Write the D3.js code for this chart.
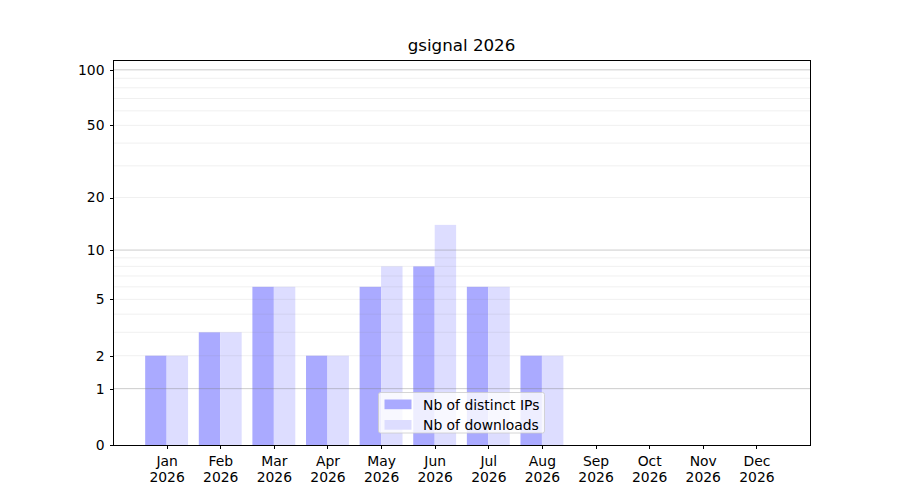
<!DOCTYPE html>
<html>
<head>
<meta charset="utf-8">
<script src="https://cdn.jsdelivr.net/npm/d3@7"></script>
<style>
  body { margin: 0; background: #fff; }
  text { font-family: "DejaVu Sans", sans-serif; }
</style>
</head>
<body>
<div id="chart"></div>
<script>
const months = ["Jan", "Feb", "Mar", "Apr", "May", "Jun", "Jul", "Aug", "Sep", "Oct", "Nov", "Dec"];
const year = "2026";
const distinctIPs = [2, 3, 6, 2, 6, 8, 6, 2, 0, 0, 0, 0];
const downloads = [2, 3, 6, 2, 8, 14, 6, 2, 0, 0, 0, 0];
const yTicks = [0, 1, 2, 5, 10, 20, 50, 100];
const majorGrid = [1, 10, 100];
const minorGrid = [2, 3, 4, 5, 6, 7, 8, 9, 20, 30, 40, 50, 60, 70, 80, 90];
const title = "gsignal 2026";
const seriesNames = ["Nb of distinct IPs", "Nb of downloads"];

const width = 900, height = 500;
const margin = { top: 60, right: 90, bottom: 55, left: 113 };
const colors = ["#aaaaff", "#ddddff"];

const svg = d3.select("#chart").append("svg")
  .attr("width", width).attr("height", height);

const x = d3.scaleLinear()
  .domain([-1, 12])
  .range([margin.left, width - margin.right]);

const y = d3.scaleSymlog()
  .constant(1)
  .domain([0, 113])
  .range([height - margin.bottom, margin.top]);

const barW = 0.4;

// bars
svg.append("g").selectAll("rect.ips")
  .data(distinctIPs)
  .join("rect")
  .attr("class", "ips")
  .attr("x", (d, i) => x(i - barW))
  .attr("width", (d, i) => x(i) - x(i - barW))
  .attr("y", d => y(d))
  .attr("height", d => y(0) - y(d))
  .attr("fill", colors[0]);

svg.append("g").selectAll("rect.dl")
  .data(downloads)
  .join("rect")
  .attr("class", "dl")
  .attr("x", (d, i) => x(i))
  .attr("width", (d, i) => x(i + barW) - x(i))
  .attr("y", d => y(d))
  .attr("height", d => y(0) - y(d))
  .attr("fill", colors[1]);

// grid (drawn over bars like matplotlib)
svg.append("g").selectAll("line")
  .data(minorGrid)
  .join("line")
  .attr("x1", margin.left).attr("x2", width - margin.right)
  .attr("y1", d => y(d)).attr("y2", d => y(d))
  .attr("stroke", "#808080").attr("stroke-opacity", 0.15).attr("stroke-width", 0.8);

svg.append("g").selectAll("line")
  .data(majorGrid)
  .join("line")
  .attr("x1", margin.left).attr("x2", width - margin.right)
  .attr("y1", d => y(d)).attr("y2", d => y(d))
  .attr("stroke", "#808080").attr("stroke-opacity", 0.4).attr("stroke-width", 1);

// axes
const yAxis = svg.append("g")
  .attr("transform", `translate(${margin.left},0)`)
  .call(d3.axisLeft(y).tickValues(yTicks).tickFormat(d3.format("d")).tickSize(3.5).tickPadding(5));

const xAxis = svg.append("g")
  .attr("transform", `translate(0,${height - margin.bottom})`)
  .call(d3.axisBottom(x).tickValues(d3.range(months.length)).tickSize(3.5).tickFormat(""));

xAxis.selectAll(".tick").append("text")
  .attr("fill", "#000")
  .attr("text-anchor", "middle")
  .selectAll("tspan")
  .data(i => [months[i], year])
  .join("tspan")
  .attr("x", 0)
  .attr("y", (d, j) => 20.5 + j * 16)
  .text(d => d);

[yAxis, xAxis].forEach(a => {
  a.select(".domain").remove();
  a.selectAll(".tick line").attr("stroke", "#000").attr("stroke-width", 1)
    .attr("shape-rendering", "crispEdges");
  a.selectAll("text").attr("font-size", "13.9px").attr("fill", "#000");
});

// frame
svg.append("rect")
  .attr("x", margin.left).attr("y", margin.top)
  .attr("width", width - margin.right - margin.left)
  .attr("height", height - margin.bottom - margin.top)
  .attr("fill", "none").attr("stroke", "#000").attr("stroke-width", 1)
  .attr("shape-rendering", "crispEdges");

// title
svg.append("text")
  .attr("x", (margin.left + width - margin.right) / 2)
  .attr("y", 51)
  .attr("text-anchor", "middle")
  .attr("font-size", "16.7px")
  .text(title);

// legend
const legend = svg.append("g").attr("transform", "translate(378.5,392.5)");
legend.append("rect")
  .attr("width", 166).attr("height", 40.5).attr("rx", 2)
  .attr("fill", "#fff").attr("fill-opacity", 0.8)
  .attr("stroke", "#cccccc").attr("stroke-width", 0.8);

const items = legend.selectAll("g.item")
  .data(seriesNames)
  .join("g")
  .attr("class", "item")
  .attr("transform", (d, i) => `translate(6,${7 + i * 20.5})`);

items.append("rect")
  .attr("width", 27).attr("height", 9.7)
  .attr("fill", (d, i) => colors[i]);

items.append("text")
  .attr("x", 38.5).attr("y", 10)
  .attr("font-size", "13.9px")
  .text(d => d);
</script>
</body>
</html>
